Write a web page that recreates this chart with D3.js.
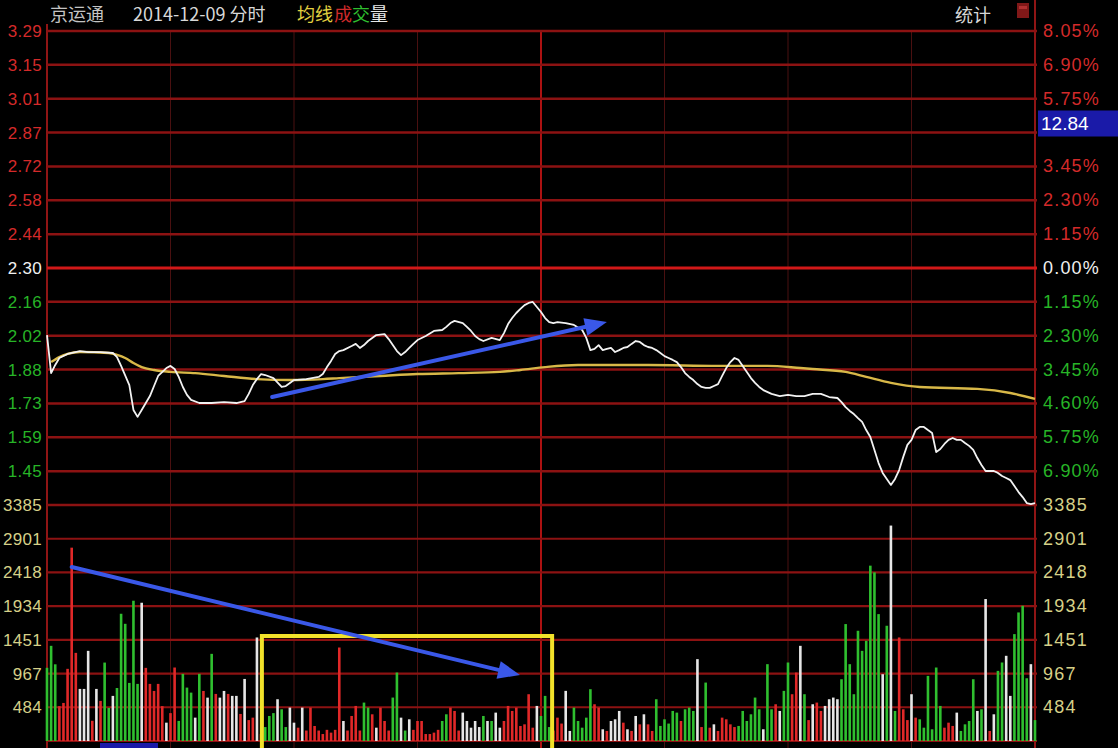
<!DOCTYPE html>
<html><head><meta charset="utf-8">
<script src="https://cdn.jsdelivr.net/npm/d3@7"></script>
<style>
html,body{margin:0;padding:0;background:#000;overflow:hidden}
svg{display:block}
</style></head>
<body>
<script>
// ---------- DATA ----------
const stockName = "京运通";
const dateLabel = "2014-12-09 分时";
const priceTicks = [3.29, 3.149, 3.007, 2.866, 2.724, 2.583, 2.441, 2.30, 2.159, 2.017, 1.876, 1.734, 1.593, 1.451];
const pctLabels = ["8.05%","6.90%","5.75%","4.60%","3.45%","2.30%","1.15%","0.00%","1.15%","2.30%","3.45%","4.60%","5.75%","6.90%"];
const volTicks = [3385, 2901, 2418, 1934, 1451, 967, 484];
const prevClose = 2.30;
const priceMin = 1.31, priceMax = 3.29, volMax = 3385;

const priceMinutes = [0,1,2,3,5,8,10,13,16,17,18,20,21,22,23,24,25,26,27,29,30,31,32,33,34,35,37,40,43,46,48,49,50,51,52,53,55,57,58,60,63,66,67,68,69,70,71,72,74,75,76,77,78,80,82,83,84,85,86,87,88,89,90,92,94,96,97,98,99,101,102,103,104,105,106,108,110,111,112,113,114,115,116,117,118,119,120,121,122,123,124,126,128,130,131,132,133,134,135,136,137,138,139,140,141,142,143,144,145,146,147,148,149,150,151,152,153,154,155,156,157,158,159,160,161,162,163,164,165,166,167,168,169,170,171,172,173,174,176,178,180,182,184,186,188,190,192,193,194,195,196,197,198,199,200,201,202,203,204,205,206,207,208,209,210,211,212,213,214,215,216,217,218,219,220,221,222,223,224,225,226,227,228,229,230,231,232,233,234,235,236,237,238,239,240];
const priceValues = [2.02,1.861,1.895,1.924,1.941,1.953,1.949,1.949,1.945,1.928,1.891,1.811,1.707,1.678,1.707,1.736,1.765,1.807,1.849,1.882,1.891,1.878,1.845,1.803,1.770,1.749,1.736,1.736,1.740,1.736,1.744,1.774,1.811,1.836,1.857,1.853,1.840,1.803,1.807,1.832,1.836,1.845,1.857,1.886,1.912,1.941,1.953,1.957,1.974,1.983,1.966,1.978,1.995,2.020,2.024,2.003,1.978,1.953,1.936,1.949,1.966,1.983,1.999,2.016,2.037,2.041,2.054,2.070,2.079,2.070,2.054,2.037,2.016,2.003,1.995,2.008,1.999,2.028,2.066,2.091,2.112,2.129,2.145,2.154,2.158,2.137,2.116,2.091,2.074,2.070,2.074,2.070,2.062,2.041,2.008,1.957,1.962,1.978,1.957,1.962,1.966,1.949,1.957,1.966,1.970,1.983,1.995,1.991,1.978,1.970,1.966,1.957,1.945,1.932,1.924,1.916,1.907,1.886,1.861,1.845,1.832,1.815,1.803,1.799,1.799,1.807,1.815,1.849,1.882,1.907,1.924,1.916,1.891,1.866,1.840,1.820,1.803,1.790,1.774,1.765,1.770,1.765,1.765,1.774,1.774,1.761,1.757,1.740,1.719,1.703,1.690,1.673,1.657,1.623,1.594,1.540,1.485,1.444,1.419,1.394,1.419,1.456,1.511,1.561,1.582,1.623,1.636,1.636,1.623,1.611,1.531,1.544,1.565,1.582,1.590,1.582,1.582,1.569,1.557,1.540,1.506,1.477,1.452,1.452,1.452,1.444,1.431,1.423,1.414,1.389,1.364,1.343,1.318,1.314,1.318];

const avgMinutes = [1,3,5,8,15,17,19,21,23,26,30,36,43,51,59,67,71,81,90,100,110,115,121,129,146,163,175,183,186,194,199,205,212,226,234,240];
const avgValues = [1.907,1.928,1.941,1.949,1.945,1.937,1.924,1.903,1.886,1.874,1.866,1.861,1.849,1.836,1.832,1.836,1.840,1.849,1.857,1.861,1.866,1.874,1.886,1.895,1.895,1.891,1.891,1.882,1.878,1.866,1.845,1.820,1.803,1.795,1.778,1.753];

const volumes = [1050,1365,1100,500,546,1035,2773,1264,747,747,
1293,290,747,575,1125,475,647,760,1825,1681,
833,2012,819,1983,1049,819,718,819,500,263,
400,1054,288,963,766,694,335,963,718,622,
1250,675,622,718,675,647,647,388,890,300,
335,1485,100,200,359,400,599,455,200,479,
263,191,479,150,479,215,150,100,160,120,
160,1341,287,150,359,503,150,551,479,383,
191,479,287,150,623,982,335,150,311,160,
287,287,100,100,120,160,287,383,479,431,
150,407,287,191,287,200,359,287,287,407,
191,287,503,431,479,215,239,671,191,503,
359,647,200,150,335,250,719,144,479,287,
191,335,743,527,479,168,144,287,311,431,
263,168,144,359,239,383,239,144,599,216,
311,250,431,407,287,455,479,431,1174,200,
838,191,239,144,335,311,239,200,216,431,
287,383,623,455,168,1102,455,527,431,719,
1126,671,982,1365,671,300,527,551,431,503,
599,623,599,886,1677,1102,671,1581,1293,1437,
2515,2419,1820,958,1653,3090,431,1485,455,300,
671,335,311,191,934,168,1054,503,191,263,
216,407,144,239,287,886,431,455,2036,144,
383,1006,1126,1222,647,1533,1844,1940,900,1102,
300];
const volColors = "gggrrrrrww"+"wrwrggwggg"+"gggwrrrrrw"+"rrggggwgrw"+"grwwrwwrwr"+"rwrgggwggw"+"wrwrrrrrrr"+"rrwrrrrggr"+"wrrrggwgwr"+"rrrrrrggrr"+"rwwwwwgwgw"+"wrrrrrrrrw"+"gggrrrwwgg"+"gggrrwrwww"+"rwrwrwrrgg"+"ggggrgggwr"+"grwrrrrrgg"+"ggggwggrwg"+"grrwgrwrrw"+"wwwggggggg"+"gggwgwgrrr"+"wrggggggrr"+"rwggggwgwr"+"wggwwggggw"+"g";

// annotations (in data units)
const arrowUp = {m0: 54.7, p0: 1.761, m1: 136, p1: 2.074};
const arrowDown = {m0: 6, v0: 2495, m1: 114.9, v1: 946};
const boxRange = {m0: 52.2, m1: 122.7, vTop: 1506};
const lastPriceTag = "12.84";
const lastPriceRow = 3; // the tag sits over this right-axis row

// ---------- LAYOUT ----------
const W = 1118, H = 748;
const L = 47, R = 1035, PT = 31, PB = 505, VB = 741;
const svg = d3.select("body").append("svg").attr("width", W).attr("height", H);
svg.append("rect").attr("width", W).attr("height", H).attr("fill", "#000");

const x = d3.scaleLinear().domain([0, 240]).range([L, R]);
const yP = d3.scaleLinear().domain([priceMin, priceMax]).range([PB, PT]);
const yV = d3.scaleLinear().domain([0, volMax]).range([VB, PB]);

const numFont = "'Liberation Sans', Arial, sans-serif";
const cjkFont = "'Noto Sans CJK SC', 'Noto Sans', sans-serif";
const colRed = "#d42a2a", colGreen = "#27b427", colVolLab = "#d6d088";

// vertical grid
const vMins = d3.range(0, 241, 30);
svg.append("g").selectAll("line").data(vMins).join("line")
  .attr("x1", d => x(d)).attr("x2", d => x(d))
  .attr("y1", d => d === 240 ? 0 : (d === 0 ? 24 : PT)).attr("y2", H)
  .attr("stroke", d => d === 120 ? "#c01414" : (d === 0 || d === 240 ? "#a01818" : "#4a1010"))
  .attr("stroke-width", d => (d === 120 || d === 0 || d === 240) ? 1.8 : 1);

// horizontal price grid
const gH = svg.append("g");
gH.selectAll("line.p").data(priceTicks.concat([priceMin])).join("line")
  .attr("x1", L).attr("x2", R + 2)
  .attr("y1", d => yP(d)).attr("y2", d => yP(d))
  .attr("stroke", d => Math.abs(d - prevClose) < 1e-6 ? "#d01818" : "#8c1212")
  .attr("stroke-width", d => Math.abs(d - prevClose) < 1e-6 ? 3 : 2.4);
gH.selectAll("line.v").data(volTicks.slice(1).concat([0])).join("line")
  .attr("x1", L).attr("x2", R + 2)
  .attr("y1", d => yV(d)).attr("y2", d => yV(d))
  .attr("stroke", "#8c1212").attr("stroke-width", 2.2);

// volume bars
const colMap = {r: "#e02828", g: "#2fbf2f", w: "#e6e6e6"};
svg.append("g").selectAll("rect").data(volumes).join("rect")
  .attr("x", (d, i) => x(i) - 1.3).attr("width", 2.6)
  .attr("y", d => yV(d)).attr("height", d => yV(0) - yV(d))
  .attr("fill", (d, i) => colMap[volColors[i]]);

// avg line
const avgData = avgMinutes.map((m, i) => [m, avgValues[i]]);
svg.append("path").datum(avgData)
  .attr("d", d3.line().x(d => x(d[0])).y(d => yP(d[1])).curve(d3.curveMonotoneX))
  .attr("fill", "none").attr("stroke", "#d8b848").attr("stroke-width", 2.4);

// price line
const priceData = priceMinutes.map((m, i) => [m, priceValues[i]]);
svg.append("path").datum(priceData)
  .attr("d", d3.line().x(d => x(d[0])).y(d => yP(d[1])))
  .attr("fill", "none").attr("stroke", "#f2f2f2").attr("stroke-width", 1.8)
  .attr("stroke-linejoin", "round");

// yellow box
svg.append("rect")
  .attr("x", x(boxRange.m0)).attr("y", yV(boxRange.vTop))
  .attr("width", x(boxRange.m1) - x(boxRange.m0))
  .attr("height", H + 10 - yV(boxRange.vTop))
  .attr("fill", "none").attr("stroke", "#f2e22a").attr("stroke-width", 4);

// arrows
function arrow(x0, y0, x1, y1) {
  const g = svg.append("g");
  const ang = Math.atan2(y1 - y0, x1 - x0);
  const hl = 22, hw = 9;
  const bx = x1 - hl * Math.cos(ang), by = y1 - hl * Math.sin(ang);
  g.append("line").attr("x1", x0).attr("y1", y0).attr("x2", bx + 4 * Math.cos(ang)).attr("y2", by + 4 * Math.sin(ang))
    .attr("stroke", "#3a58e8").attr("stroke-width", 4).attr("stroke-linecap", "round");
  const px = -Math.sin(ang), py = Math.cos(ang);
  g.append("polygon").attr("points", [
    [x1, y1], [bx + hw * px, by + hw * py], [bx - hw * px, by - hw * py]
  ].map(p => p.join(",")).join(" ")).attr("fill", "#3a58e8");
}
arrow(x(arrowUp.m0), yP(arrowUp.p0), x(arrowUp.m1), yP(arrowUp.p1));
arrow(x(arrowDown.m0), yV(arrowDown.v0), x(arrowDown.m1), yV(arrowDown.v1));

// left labels
const gl = svg.append("g").attr("font-family", numFont).attr("font-size", 17).attr("letter-spacing", 0.3);
gl.selectAll("text.p").data(priceTicks).join("text")
  .attr("x", 42).attr("y", d => yP(d) + 6).attr("text-anchor", "end")
  .attr("fill", d => Math.abs(d - prevClose) < 1e-6 ? "#f0f0f0" : (d > prevClose ? colRed : colGreen))
  .text(d => d3.format(".2f")(d));
gl.selectAll("text.v").data(volTicks).join("text")
  .attr("x", 42).attr("y", d => yV(d) + 6).attr("text-anchor", "end")
  .attr("fill", colVolLab).text(d => d);

// right labels (the row under the price tag is hidden by it)
const gr = svg.append("g").attr("font-family", numFont).attr("font-size", 18).attr("letter-spacing", 1.2);
gr.selectAll("text.p").data(priceTicks.filter((d, i) => i !== lastPriceRow)).join("text")
  .attr("x", 1043).attr("y", d => yP(d) + 6)
  .attr("fill", d => Math.abs(d - prevClose) < 1e-6 ? "#f0f0f0" : (d > prevClose ? colRed : colGreen))
  .text(d => pctLabels[priceTicks.indexOf(d)]);
gr.selectAll("text.v").data(volTicks).join("text")
  .attr("x", 1043).attr("y", d => yV(d) + 6)
  .attr("fill", colVolLab).text(d => d);

// last price tag
const tagY = yP(priceTicks[lastPriceRow]);
svg.append("rect").attr("x", 1038).attr("y", tagY - 22).attr("width", 80).attr("height", 26).attr("fill", "#1a1aa8");
svg.append("text").attr("x", 1041).attr("y", tagY - 3).attr("font-family", numFont).attr("font-size", 19)
  .attr("fill", "#ffffff").text(lastPriceTag);

// header
const hdr = svg.append("g").attr("font-family", cjkFont).attr("font-size", 18);
hdr.append("text").attr("x", 50).attr("y", 21).attr("fill", "#c4c4c4").text(stockName);
hdr.append("text").attr("x", 133).attr("y", 21).attr("fill", "#d8d8d8").text(dateLabel);
const legend = [["均线", "#e2d040", 297], ["成", "#d02a2a", 334], ["交", "#2fbf2f", 352], ["量", "#e8e8e8", 370]];
legend.forEach(l => hdr.append("text").attr("x", l[2]).attr("y", 21).attr("fill", l[1]).text(l[0]));
hdr.append("text").attr("x", 955).attr("y", 22).attr("fill", "#d8d8d8").text("统计");
svg.append("rect").attr("x", 1017).attr("y", 3).attr("width", 12).attr("height", 15).attr("fill", "#801818");
svg.append("rect").attr("x", 1019).attr("y", 6).attr("width", 8).attr("height", 3).attr("fill", "#b03030");

// bottom partial tag
svg.append("rect").attr("x", 100).attr("y", 743).attr("width", 58).attr("height", 10).attr("fill", "#1a1aa8");
</script>
</body></html>
